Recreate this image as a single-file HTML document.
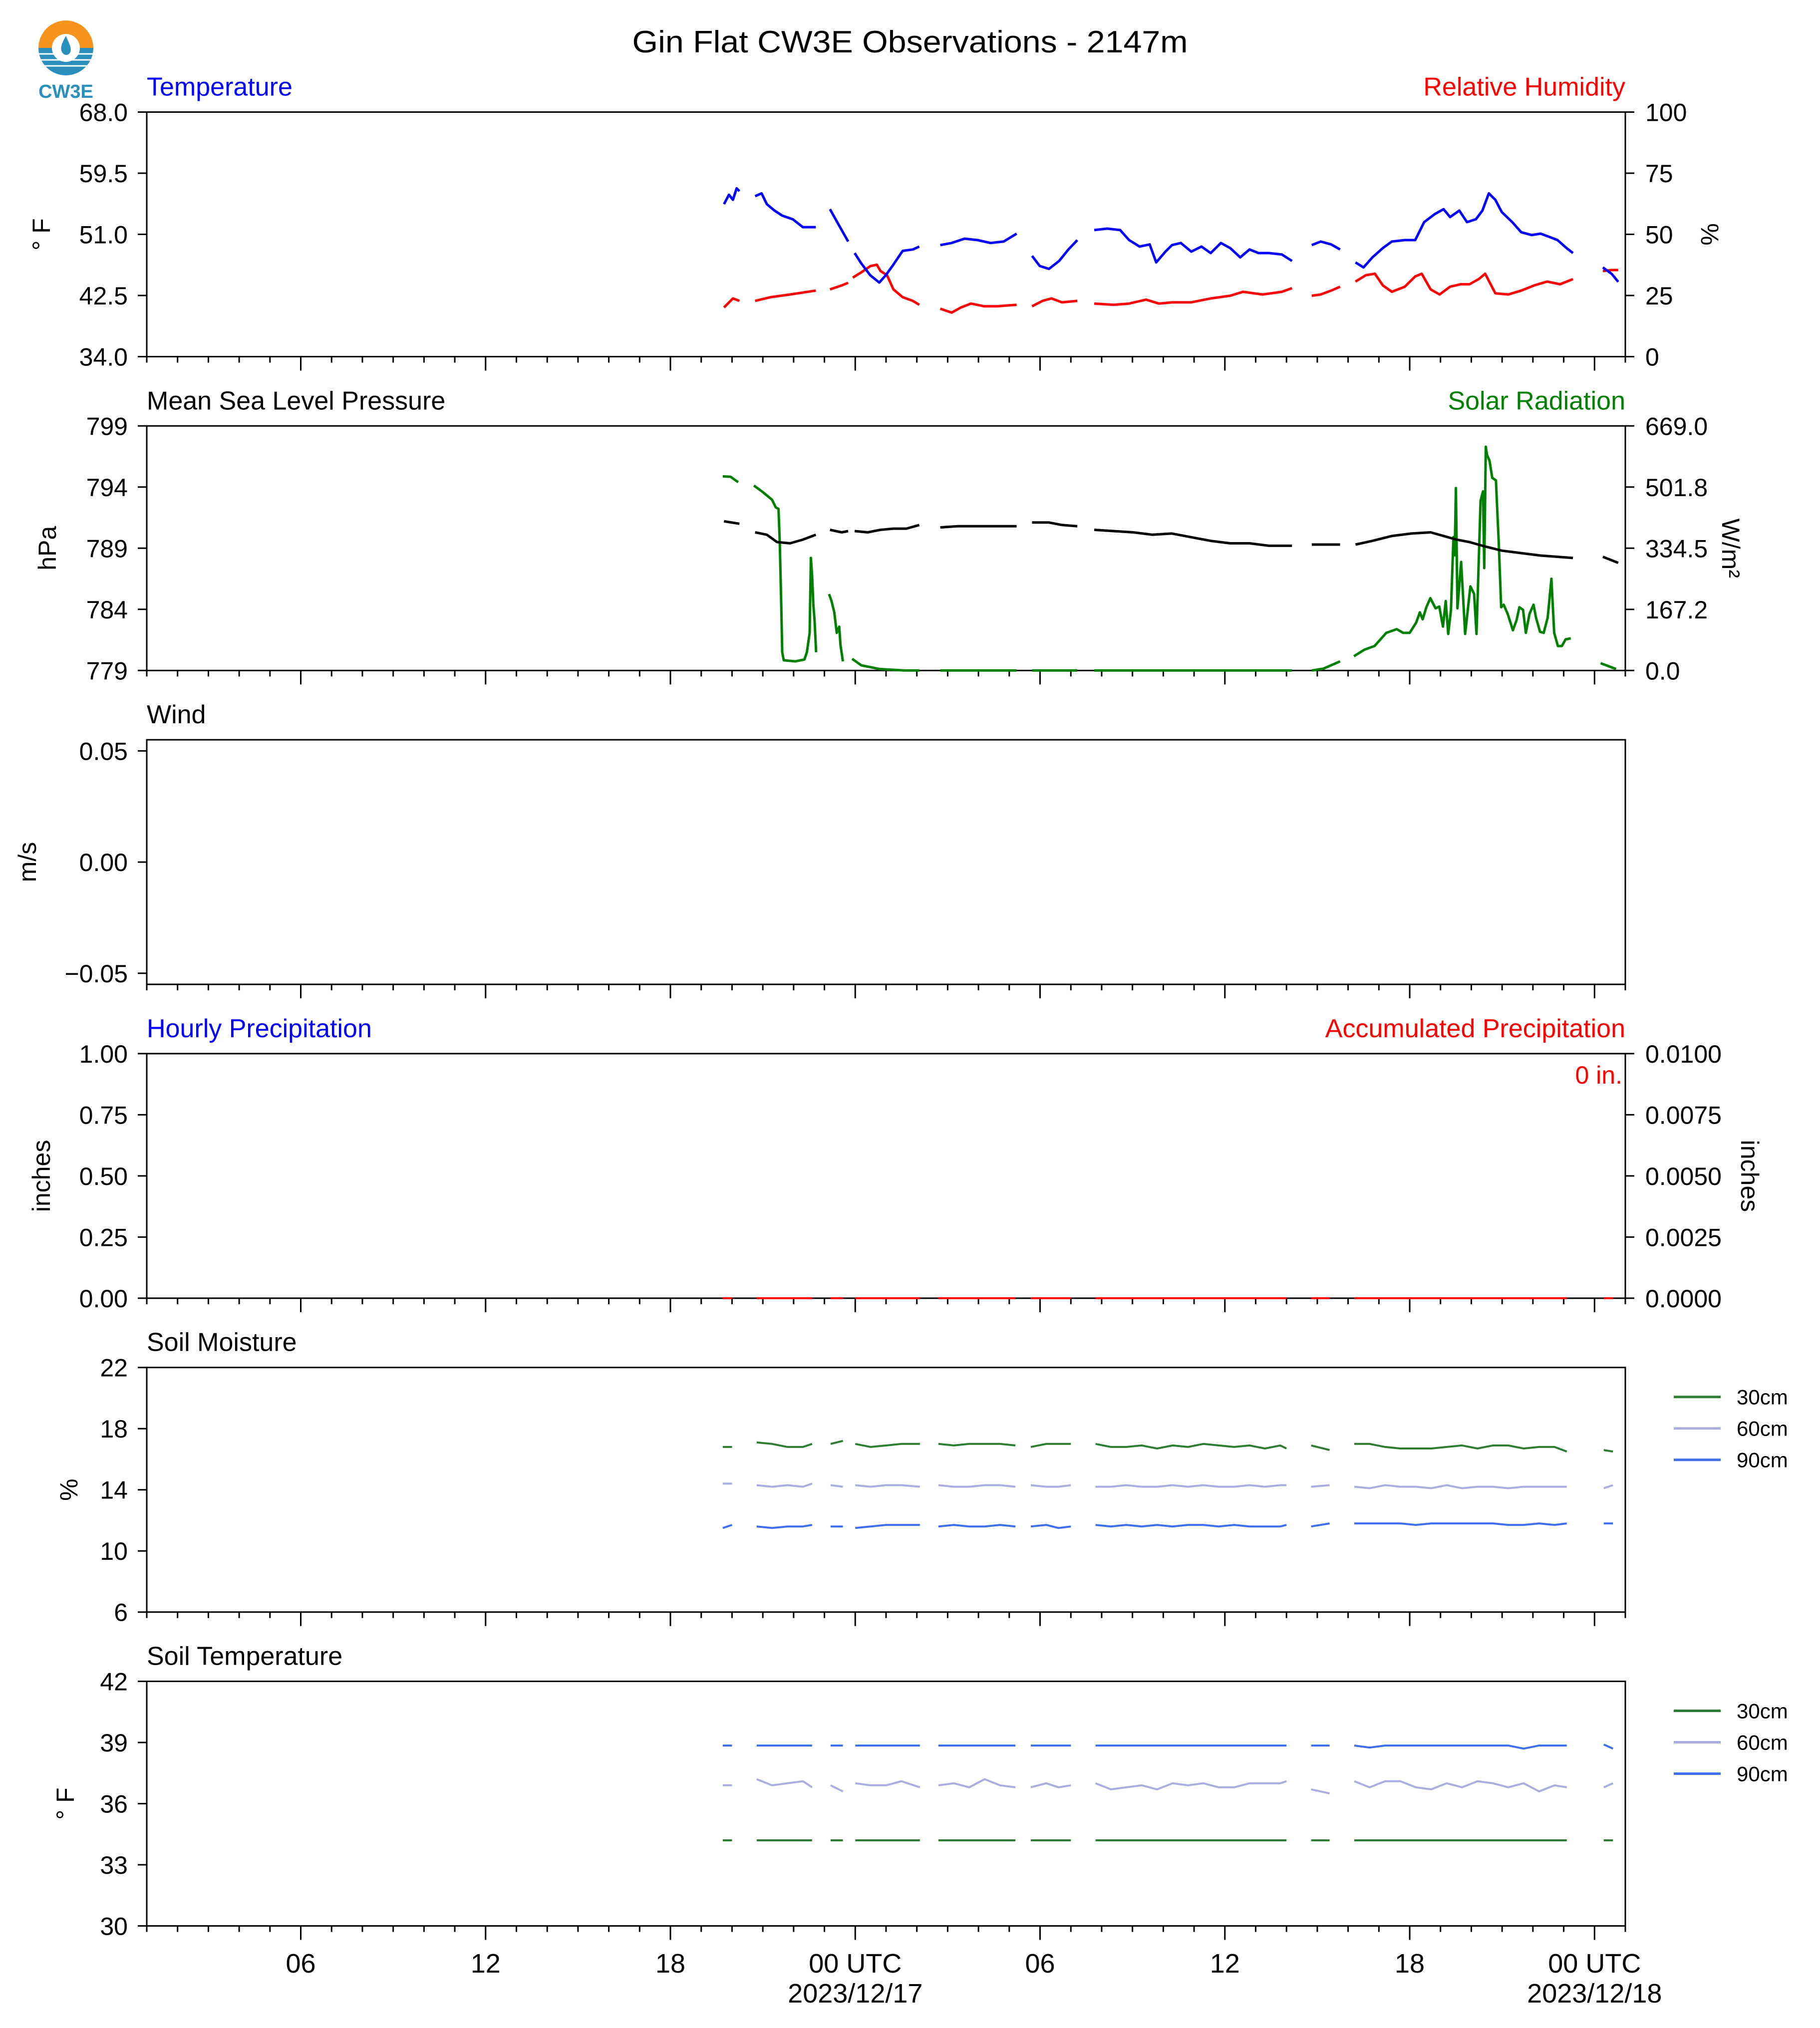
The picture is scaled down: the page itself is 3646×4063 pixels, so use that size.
<!DOCTYPE html>
<html><head><meta charset="utf-8">
<style>
html,body{margin:0;padding:0;background:#fff;}
svg{display:block;font-family:"Liberation Sans",Arial,sans-serif;}
</style></head>
<body>
<svg id="chart" xmlns="http://www.w3.org/2000/svg" width="3646" height="4063" viewBox="0 0 3646 4063">
<rect width="3646" height="4063" fill="#fff"/>
<g>
  <path d="M77,96 A55,55 0 0 1 187,96 L160,96 A28,28 0 0 0 104,96 Z" fill="#f7941d"/>
  <path d="M77,96 A55,55 0 0 0 187,96 L160,96 A28,28 0 0 1 104,96 Z" fill="#2a8fbd"/>
  <g stroke="#fff" stroke-width="3"><line x1="77" y1="108" x2="187" y2="108"/><line x1="77" y1="120" x2="187" y2="120"/><line x1="77" y1="132" x2="187" y2="132"/></g>
  <path d="M132,72 C124,86 120,96 124,104 C128,112 138,112 141,104 C144,96 138,86 132,72 Z" fill="#2a8fbd"/>
  <text x="132" y="196" text-anchor="middle" font-size="38" font-weight="bold" fill="#2a8fbd">CW3E</text>
</g>
<text x="1823" y="105" text-anchor="middle" font-size="62" textLength="1113" lengthAdjust="spacingAndGlyphs">Gin Flat CW3E Observations - 2147m</text>
<g id="plots"></g>
</svg>
<script>
// ---- data (hours since 2023-12-16 01 UTC) ----
const xTickLabels = ["06","12","18","00 UTC","06","12","18","00 UTC"];
const xTickHours = [5,11,17,23,29,35,41,47];
const xDateLabels = {"23":"2023/12/17","47":"2023/12/18"};

const tempTimes = [18.74,18.9,19.03,19.15,19.24,19.5,19.75,19.96,20.13,20.38,20.63,20.97,21.3,21.72,21.95,22.18,22.48,22.77,22.88,22.98,23.19,23.49,23.78,23.99,24.24,24.54,24.87,25.08,25.4,25.76,26.13,26.55,26.97,27.39,27.82,28.24,28.5,28.74,28.99,29.29,29.62,29.92,30.21,30.5,30.76,31.18,31.6,31.89,32.23,32.56,32.77,33.07,33.28,33.57,33.91,34.24,34.54,34.87,35.17,35.5,35.8,36.09,36.43,36.85,37.18,37.5,37.82,38.11,38.45,38.74,39.0,39.24,39.5,39.79,40.13,40.42,40.84,41.18,41.47,41.81,42.1,42.31,42.61,42.86,43.15,43.36,43.57,43.78,43.99,44.33,44.62,44.96,45.25,45.5,45.8,46.09,46.3,46.8,47.27,47.56,47.77];
const tempValues = [55.2,56.5,55.8,57.4,57.0,null,56.3,56.7,55.2,54.3,53.6,53.1,52.0,52.0,null,54.5,52.2,50.0,null,48.4,47.0,45.3,44.3,45.3,46.8,48.7,48.9,49.3,null,49.5,49.8,50.4,50.2,49.8,50.0,51.1,null,48.0,46.6,46.2,47.3,48.9,50.2,null,51.6,51.8,51.6,50.2,49.3,49.6,47.1,48.6,49.5,49.8,48.6,49.3,48.4,49.8,49.1,47.8,48.9,48.4,48.4,48.2,47.3,null,49.5,50.0,49.6,48.9,null,47.1,46.4,47.8,49.1,50.0,50.2,50.2,52.7,53.8,54.5,53.4,54.3,52.7,53.1,54.3,56.7,55.8,54.1,52.7,51.3,50.9,51.1,50.7,50.2,49.1,48.4,null,46.4,45.5,44.4];

const rhTimes = [18.74,19.03,19.24,19.5,19.75,20.25,20.88,21.72,21.95,22.18,22.56,22.77,22.88,22.92,23.19,23.49,23.7,23.82,24.03,24.24,24.54,24.87,25.08,25.4,25.76,26.13,26.43,26.76,27.18,27.6,28.24,28.5,28.74,29.08,29.37,29.71,30.21,30.5,30.76,31.39,31.89,32.44,32.86,33.28,33.91,34.54,35.17,35.59,36.22,36.85,37.18,37.5,37.82,38.11,38.45,38.74,39.0,39.24,39.58,39.87,40.13,40.42,40.84,41.18,41.39,41.68,41.97,42.31,42.65,42.94,43.24,43.45,43.78,44.2,44.62,45.04,45.46,45.88,46.3,46.8,47.27,47.56,47.77];
const rhValues = [20.1,23.8,22.8,null,22.8,24.3,25.4,27.0,null,27.5,29.1,30.2,null,32.3,34.4,37.0,37.6,35.0,33.3,27.5,24.3,22.8,21.2,null,19.6,18.0,20.1,21.7,20.6,20.6,21.2,null,20.6,22.8,23.8,22.2,22.8,null,21.7,21.2,21.7,23.3,21.7,22.2,22.2,23.8,24.9,26.5,25.4,26.5,28.0,null,24.9,25.4,27.0,28.6,null,30.7,33.3,33.9,29.1,26.5,28.6,32.8,33.9,27.5,25.4,28.6,29.6,29.6,31.7,33.9,25.9,25.4,27.0,29.1,30.7,29.6,31.7,null,35.0,35.4,35.4];

const presTimes = [18.74,19.24,19.5,19.75,20.13,20.46,20.88,21.3,21.72,21.95,22.18,22.56,22.77,22.88,22.98,23.4,23.82,24.24,24.66,25.08,25.4,25.76,26.34,27.18,28.24,28.5,28.74,29.29,29.71,30.21,30.5,30.76,31.39,32.02,32.65,33.28,33.91,34.54,35.17,35.8,36.43,37.18,37.5,37.82,38.74,39.0,39.24,39.79,40.42,41.05,41.68,42.1,42.52,42.94,43.36,43.99,44.62,45.25,46.3,46.8,47.27,47.77];
const presValues = [791.2,791.0,null,790.3,790.1,789.5,789.4,789.7,790.1,null,790.5,790.3,790.4,null,790.4,790.3,790.5,790.6,790.6,790.9,null,790.7,790.8,790.8,790.8,null,791.1,791.1,790.9,790.8,null,790.5,790.4,790.3,790.1,790.2,789.9,789.6,789.4,789.4,789.2,789.2,null,789.3,789.3,null,789.3,789.6,790.0,790.2,790.3,790.0,789.7,789.5,789.2,788.8,788.6,788.4,788.2,null,788.3,787.8];

const solarTimes = [18.7,18.95,19.2,19.5,19.71,20.0,20.3,20.42,20.51,20.55,20.6,20.63,20.68,21.05,21.35,21.43,21.52,21.56,21.6,21.64,21.68,21.73,21.95,22.15,22.23,22.32,22.4,22.48,22.52,22.6,22.75,22.9,23.2,23.8,24.6,25.08,25.4,25.76,28.24,28.5,28.74,30.21,30.5,30.76,37.18,37.5,37.82,38.2,38.74,39.0,39.19,39.53,39.86,40.24,40.58,40.79,41.0,41.21,41.33,41.42,41.54,41.67,41.84,41.96,42.08,42.17,42.25,42.34,42.42,42.46,42.5,42.55,42.67,42.8,42.97,43.09,43.17,43.3,43.38,43.42,43.47,43.51,43.59,43.68,43.8,43.89,43.97,44.05,44.18,44.35,44.47,44.56,44.68,44.77,44.89,45.02,45.1,45.23,45.35,45.48,45.6,45.69,45.81,45.94,46.06,46.23,46.6,47.2,47.7];
const solarValues = [531,530,515,null,506,488,467,446,442,350,173,50,28,25,30,50,103,308,260,180,138,50,null,209,190,159,103,120,70,25,null,32,14,4,0,0,null,0,0,null,0,0,null,0,0,null,0,5,25,null,39,57,67,103,113,103,103,131,159,140,173,198,170,175,120,190,100,165,365,315,499,170,297,100,230,210,100,464,490,280,612,590,574,527,520,350,173,180,155,110,138,173,166,103,155,180,145,106,103,145,251,103,67,67,85,88,null,20,4];

const soilTimes = [18.7,19.0,19.4,19.8,20.3,20.8,21.3,21.6,21.9,22.2,22.6,22.8,23.0,23.5,24.0,24.5,25.1,25.4,25.7,26.2,26.7,27.2,27.7,28.2,28.5,28.7,29.2,29.6,30.0,30.4,30.8,31.3,31.8,32.3,32.8,33.3,33.8,34.3,34.8,35.3,35.8,36.3,36.8,37.0,37.4,37.8,38.4,38.8,39.2,39.7,40.2,40.7,41.2,41.7,42.2,42.7,43.2,43.7,44.2,44.7,45.2,45.7,46.1,46.7,47.3,47.6];
const sm30 = [16.8,16.8,null,17.1,17.0,16.8,16.8,17.0,null,17.0,17.2,null,17.0,16.8,16.9,17.0,17.0,null,17.0,16.9,17.0,17.0,17.0,16.9,null,16.8,17.0,17.0,17.0,null,17.0,16.8,16.8,16.9,16.7,16.9,16.8,17.0,16.9,16.8,16.9,16.7,16.9,16.7,null,16.9,16.6,null,17.0,17.0,16.8,16.7,16.7,16.7,16.8,16.9,16.7,16.9,16.9,16.7,16.8,16.8,16.5,null,16.6,16.5];
const sm60 = [14.4,14.4,null,14.3,14.2,14.3,14.2,14.4,null,14.3,14.2,null,14.3,14.2,14.3,14.3,14.2,null,14.3,14.2,14.2,14.3,14.3,14.2,null,14.3,14.2,14.2,14.3,null,14.2,14.2,14.3,14.2,14.2,14.3,14.2,14.3,14.2,14.2,14.3,14.2,14.3,14.3,null,14.2,14.3,null,14.2,14.1,14.3,14.2,14.2,14.1,14.3,14.1,14.2,14.2,14.1,14.2,14.2,14.2,14.2,null,14.1,14.3];
const sm90 = [11.5,11.7,null,11.6,11.5,11.6,11.6,11.7,null,11.6,11.6,null,11.5,11.6,11.7,11.7,11.7,null,11.6,11.7,11.6,11.6,11.7,11.6,null,11.6,11.7,11.5,11.6,null,11.7,11.6,11.7,11.6,11.7,11.6,11.7,11.7,11.6,11.7,11.6,11.6,11.6,11.7,null,11.6,11.8,null,11.8,11.8,11.8,11.8,11.7,11.8,11.8,11.8,11.8,11.8,11.7,11.7,11.8,11.7,11.8,null,11.8,11.8];
const st30 = [34.2,34.2,null,34.2,34.2,34.2,34.2,34.2,null,34.2,34.2,null,34.2,34.2,34.2,34.2,34.2,null,34.2,34.2,34.2,34.2,34.2,34.2,null,34.2,34.2,34.2,34.2,null,34.2,34.2,34.2,34.2,34.2,34.2,34.2,34.2,34.2,34.2,34.2,34.2,34.2,34.2,null,34.2,34.2,null,34.2,34.2,34.2,34.2,34.2,34.2,34.2,34.2,34.2,34.2,34.2,34.2,34.2,34.2,34.2,null,34.2,34.2];
const st60 = [36.9,36.9,null,37.2,36.9,37.0,37.1,36.8,null,36.9,36.6,null,37.0,36.9,36.9,37.1,36.8,null,36.9,37.0,36.8,37.2,36.9,36.8,null,36.8,37.0,36.8,36.9,null,37.0,36.7,36.8,36.9,36.7,37.0,36.9,37.0,36.8,36.8,37.0,37.0,37.0,37.1,null,36.7,36.5,null,37.1,36.8,37.1,37.1,36.8,36.7,37.0,36.8,37.1,37.0,36.8,37.0,36.6,36.9,36.8,null,36.8,37.0];
const st90 = [38.85,38.85,null,38.85,38.85,38.85,38.85,38.85,null,38.85,38.85,null,38.85,38.85,38.85,38.85,38.85,null,38.85,38.85,38.85,38.85,38.85,38.85,null,38.85,38.85,38.85,38.85,null,38.85,38.85,38.85,38.85,38.85,38.85,38.85,38.85,38.85,38.85,38.85,38.85,38.85,38.85,null,38.85,38.85,null,38.85,38.75,38.85,38.85,38.85,38.85,38.85,38.85,38.85,38.85,38.85,38.7,38.85,38.85,38.85,null,38.9,38.7];
const accumPrecip = [0,0,null,0,0,0,0,0,null,0,0,null,0,0,0,0,0,null,0,0,0,0,0,0,null,0,0,0,0,null,0,0,0,0,0,0,0,0,0,0,0,0,0,0,null,0,0,null,0,0,0,0,0,0,0,0,0,0,0,0,0,0,0,null,0,0];

const tempTicks = ["34.0","42.5","51.0","59.5","68.0"];
const rhTicks = ["0","25","50","75","100"];
const presTicks = ["779","784","789","794","799"];
const solarTicks = ["0.0","167.2","334.5","501.8","669.0"];
const windTicks = ["\u22120.05","0.00","0.05"];
const precipTicks = ["0.00","0.25","0.50","0.75","1.00"];
const accumTicks = ["0.0000","0.0025","0.0050","0.0075","0.0100"];
const smTicks = ["6","10","14","18","22"];
const stTicks = ["30","33","36","39","42"];

// ---- layout ----
const NS = "http://www.w3.org/2000/svg";
const root = document.getElementById("plots");
const L = 294, R = 3256, H = 490, PITCH = 628.8, TOP0 = 224.5, HOURS = 48;
const xs = h => L + h * (R - L) / HOURS;

function el(tag, attrs, parent) {
  const e = document.createElementNS(NS, tag);
  for (const k in attrs) e.setAttribute(k, attrs[k]);
  (parent || root).appendChild(e);
  return e;
}
function txt(s, attrs, parent) { const e = el("text", attrs, parent); e.textContent = s; return e; }

function series(g, times, vals, ys, color, w, name) {
  let pts = [];
  const segs = [];
  for (let i = 0; i < times.length; i++) {
    if (vals[i] === null) { if (pts.length) segs.push(pts); pts = []; continue; }
    pts.push(xs(times[i]).toFixed(1) + "," + ys(vals[i]).toFixed(1));
  }
  if (pts.length) segs.push(pts);
  segs.forEach(p => {
    const pl = el("polyline", {points: p.join(" "), fill: "none", stroke: color, "stroke-width": w, "stroke-linejoin": "round"}, g);
    
    
  });
}

function panel(i, opt) {
  const top = TOP0 + i * PITCH, bot = top + H;
  const g = el("g", {});
  
  
  const yl = v => bot - (v - opt.lmin) / (opt.lmax - opt.lmin) * H;
  const yr = opt.rmin !== undefined ? (v => bot - (v - opt.rmin) / (opt.rmax - opt.rmin) * H) : null;
  // frame
  const fr = el("rect", {x: L, y: top, width: R - L, height: H, fill: "none", stroke: "#000", "stroke-width": 3}, g);
  
  
  // x ticks
  for (let h = 0; h <= HOURS; h++) {
    const major = xTickHours.indexOf(h) >= 0;
    el("line", {x1: xs(h), x2: xs(h), y1: bot, y2: bot + (major ? 28 : 12), stroke: "#000", "stroke-width": 3}, g);
  }
  if (opt.xlabels) {
    xTickHours.forEach((h, k) => {
      const t = txt(xTickLabels[k], {x: xs(h), y: 3952, "text-anchor": "middle", "font-size": 54}, g);
      
      
      if (xDateLabels[h]) {
        const d = txt(xDateLabels[h], {x: xs(h), y: 4012, "text-anchor": "middle", "font-size": 54}, g);
        
        
      }
    });
  }
  // left ticks
  opt.lticks.forEach(s => {
    const v = parseFloat(s.replace("\u2212", "-"));
    const y = yl(v);
    el("line", {x1: L - 18, x2: L, y1: y, y2: y, stroke: "#000", "stroke-width": 3}, g);
    const t = txt(s, {x: L - 38, y: y + 18, "text-anchor": "end", "font-size": 50}, g);
    
    
  });
  if (yr) {
    opt.rticks.forEach(s => {
      const y = yr(parseFloat(s));
      el("line", {x1: R, x2: R + 18, y1: y, y2: y, stroke: "#000", "stroke-width": 3}, g);
      const t = txt(s, {x: R + 40, y: y + 18, "text-anchor": "start", "font-size": 50}, g);
      
      
    });
  }
  // titles
  const tl = txt(opt.ltitle, {x: L, y: top - 33, "font-size": 52, fill: opt.lcolor || "#000"}, g);
  
  
  if (opt.rtitle) {
    const tr = txt(opt.rtitle, {x: R, y: top - 33, "text-anchor": "end", "font-size": 52, fill: opt.rcolor}, g);
    
    
  }
  const cy = top + H / 2;
  const ax = txt(opt.lunit, {x: opt.lux, y: cy, "text-anchor": "middle", "font-size": 50, transform: `rotate(-90 ${opt.lux} ${cy})`}, g);
  
  
  if (opt.runit) {
    const ar = txt(opt.runit, {x: opt.rux, y: cy, "text-anchor": "middle", "font-size": 50, transform: `rotate(90 ${opt.rux} ${cy})`}, g);
    
    
  }
  return {g, yl, yr, top, bot};
}

// Panel 1: Temperature / RH
let p = panel(0, {name: "temperature-panel", lmin: 34, lmax: 68, rmin: 0, rmax: 100, lticks: tempTicks, rticks: rhTicks,
  ltitle: "Temperature", lcolor: "#0000ff", rtitle: "Relative Humidity", rcolor: "#ff0000", lunit: "\u00b0 F", lux: 100, runit: "%", rux: 3408});
series(p.g, rhTimes, rhValues, p.yr, "#ff0000", 5, "relative-humidity-line");
series(p.g, tempTimes, tempValues, p.yl, "#0000ff", 5, "temperature-line");

// Panel 2: Pressure / Solar
p = panel(1, {name: "pressure-solar-panel", lmin: 779, lmax: 799, rmin: 0, rmax: 669, lticks: presTicks, rticks: solarTicks,
  ltitle: "Mean Sea Level Pressure", rtitle: "Solar Radiation", rcolor: "#008000", lunit: "hPa", lux: 112, runit: "W/m\u00b2", rux: 3450});
series(p.g, solarTimes, solarValues, p.yr, "#008000", 5, "solar-radiation-line");
series(p.g, presTimes, presValues, p.yl, "#000000", 5, "pressure-line");

// Panel 3: Wind
p = panel(2, {name: "wind-panel", lmin: -0.055, lmax: 0.055, lticks: windTicks, ltitle: "Wind", lunit: "m/s", lux: 72});

// Panel 4: Precipitation
p = panel(3, {name: "precipitation-panel", lmin: 0, lmax: 1, rmin: 0, rmax: 0.01, lticks: precipTicks, rticks: accumTicks,
  ltitle: "Hourly Precipitation", lcolor: "#0000ff", rtitle: "Accumulated Precipitation", rcolor: "#ff0000", lunit: "inches", lux: 100, runit: "inches", rux: 3488});
series(p.g, soilTimes, accumPrecip, p.yr, "#ff0000", 4, "accumulated-precip-line");
const pt = txt("0 in.", {x: R - 6, y: p.top + 60, "text-anchor": "end", "font-size": 50, fill: "#ff0000"}, p.g);



const legColors = ["#2e7d32", "#a9addf", "#3d6ff0"];
const legNames = ["30cm", "60cm", "90cm"];
function legend(g, top) {
  legNames.forEach((n, k) => {
    const y = top + 59 + k * 63;
    const ln = el("line", {x1: 3353, x2: 3447, y1: y, y2: y, stroke: legColors[k], "stroke-width": 5}, g);
    
    
    const t = txt(n, {x: 3479, y: y + 15, "font-size": 42}, g);
    
    
  });
}

// Panel 5: Soil Moisture
p = panel(4, {name: "soil-moisture-panel", lmin: 6, lmax: 22, lticks: smTicks, ltitle: "Soil Moisture", lunit: "%", lux: 155});
series(p.g, soilTimes, sm30, p.yl, legColors[0], 4, "soil-moisture-30cm");
series(p.g, soilTimes, sm60, p.yl, legColors[1], 4, "soil-moisture-60cm");
series(p.g, soilTimes, sm90, p.yl, legColors[2], 4, "soil-moisture-90cm");
legend(p.g, p.top);

// Panel 6: Soil Temperature
p = panel(5, {name: "soil-temperature-panel", lmin: 30, lmax: 42, lticks: stTicks, ltitle: "Soil Temperature", lunit: "\u00b0 F", lux: 148, xlabels: true});
series(p.g, soilTimes, st30, p.yl, legColors[0], 4, "soil-temperature-30cm");
series(p.g, soilTimes, st60, p.yl, legColors[1], 4, "soil-temperature-60cm");
series(p.g, soilTimes, st90, p.yl, legColors[2], 4, "soil-temperature-90cm");
legend(p.g, p.top);
</script>
</body></html>
